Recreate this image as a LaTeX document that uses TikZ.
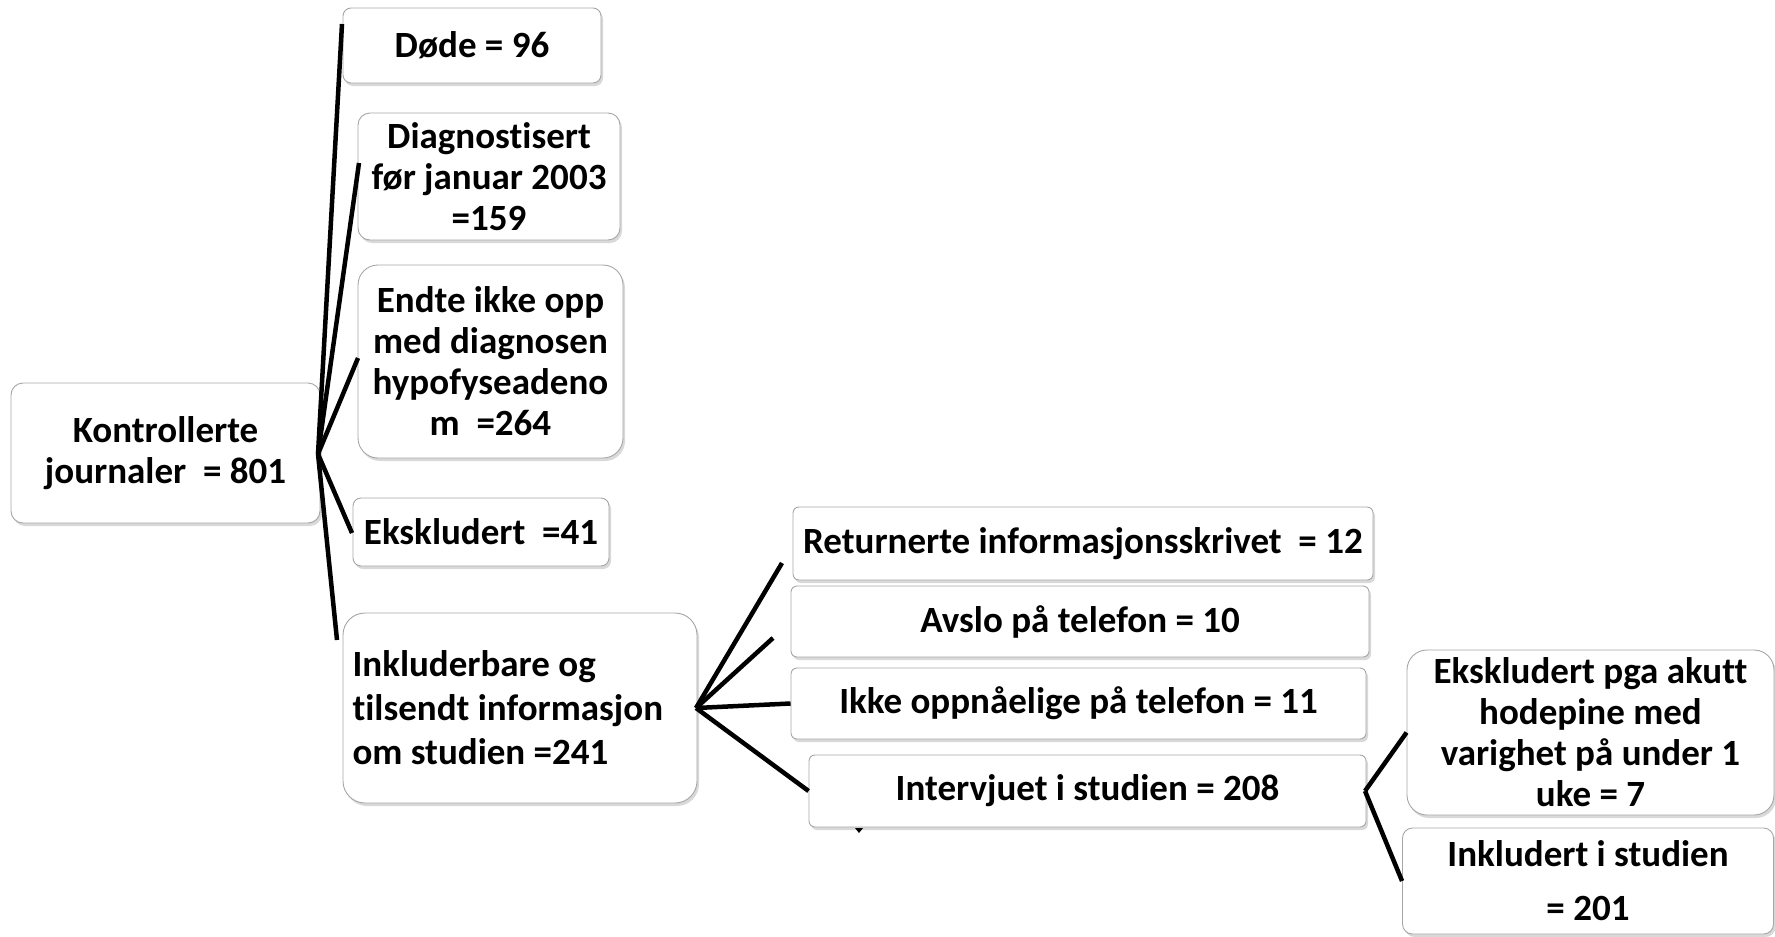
\documentclass[tikz,border=0pt]{standalone}
\usepackage{fontspec}
\setmainfont{Carlito}[Ligatures={NoCommon}]
\usetikzlibrary{shadows}
\tikzset{
  box/.style={draw=gray!70, line width=0.9pt, fill=white, rounded corners=8pt,
    align=center, inner sep=0pt,
    font=\bfseries\fontsize{37}{41}\selectfont,
    drop shadow={shadow xshift=2pt, shadow yshift=-3pt, opacity=0.3}},
  conn/.style={line width=4.5pt, black},
}
\begin{document}
\begin{tikzpicture}[x=1pt,y=-1pt]
\useasboundingbox (0,0) rectangle (1775,937);

% left column
\node[box, rounded corners=12pt, minimum width=309pt, minimum height=140pt] (K) at (165.5,453) {Kontrollerte\\journaler~ = 801};
\node[box, minimum width=258pt, minimum height=75pt] (D) at (472,45.5) {Døde = 96};
\node[box, rounded corners=12pt, minimum width=262pt, minimum height=127pt] (Dg) at (489,176.5) {Diagnostisert\\før januar 2003\\=159};
\node[box, rounded corners=20pt, minimum width=265pt, minimum height=193pt] (E) at (490.5,361.5) {Endte ikke opp\\med diagnosen\\hypofyseadeno\\m~ =264};
\node[box, minimum width=256pt, minimum height=68pt] (X) at (481,532) {Ekskludert~ =41};
\node[box, rounded corners=22pt, minimum width=354pt, minimum height=190pt, text width=335pt, align=flush left, font=\bfseries\fontsize{37}{44}\selectfont] (I) at (520,708) {Inkluderbare og\\tilsendt informasjon\\om studien =241};

% middle column
\node[box, rounded corners=6pt, minimum width=580pt, minimum height=73pt] (R) at (1083,543.5) {Returnerte informasjonsskrivet~ = 12};
\node[box, rounded corners=6pt, minimum width=578pt, minimum height=71pt] (A) at (1080,621.5) {Avslo på telefon = 10};
\node[box, rounded corners=6pt, minimum width=575pt, minimum height=71pt] (Ik) at (1078.5,703.5) {Ikke oppnåelige på telefon = 11};
\node[box, rounded corners=6pt, minimum width=557pt, minimum height=72pt] (Iv) at (1087.5,791) {Intervjuet i studien = 208};

% right column
\node[box, rounded corners=20pt, minimum width=367pt, minimum height=165pt] (EP) at (1590.5,732.5) {Ekskludert pga akutt\\hodepine med\\varighet på under 1\\uke = 7};
\node[box, rounded corners=10pt, minimum width=371pt, minimum height=106pt] (IS) at (1588,881) {Inkludert i studien\\[13pt]= 201};

% free ends
\coordinate (h1) at (318,454);
\coordinate (cD) at (342,24);
\coordinate (cDg) at (359,163);
\coordinate (cE) at (358,358);
\coordinate (cX) at (352,533);
\coordinate (cI) at (337,640);
\coordinate (h2) at (696,708);
\coordinate (cR) at (782,563);
\coordinate (cA) at (773,638);
\coordinate (h3) at (1365,791);
\coordinate (tk) at (859,828);

\draw[conn] (h1) -- (cD);
\draw[conn] (h1) -- (cDg);
\draw[conn] (h1) -- (cE);
\draw[conn] (h1) -- (cX);
\draw[conn] (h1) -- (cI);

\draw[conn] (h2) -- (cR);
\draw[conn] (h2) -- (cA);
\draw[conn] (h2) -- (Ik.west);
\draw[conn] (h2) -- (Iv.west);

\draw[conn] (h3) -- (EP.west);
\draw[conn] (h3) -- (IS.west);

\fill (tk) ++(-4,0) -- ++(8,0) -- ++(-4,5) -- cycle;
\end{tikzpicture}
\end{document}
